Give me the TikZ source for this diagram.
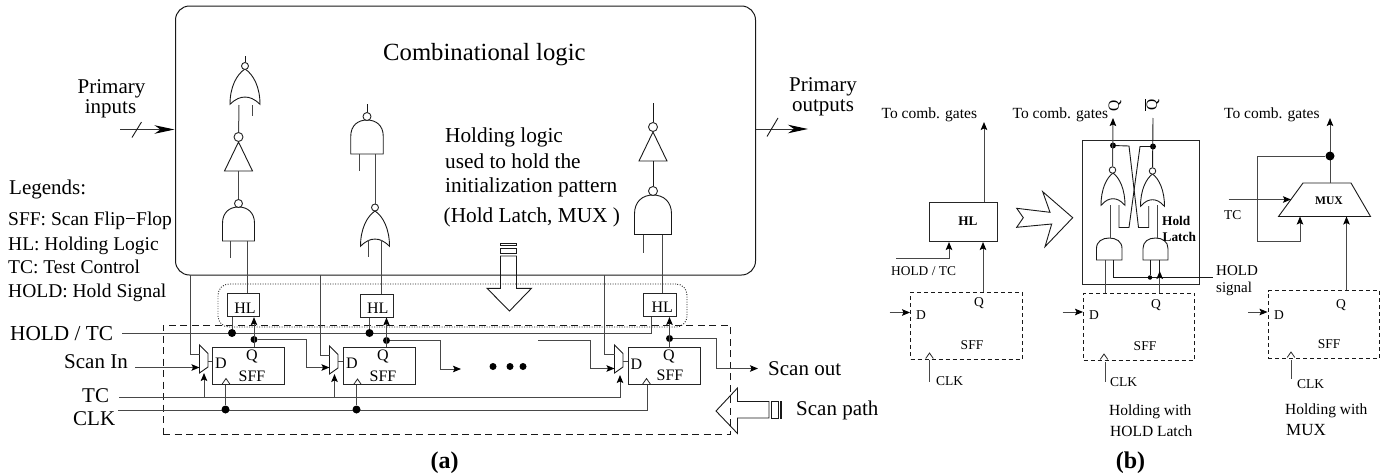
\documentclass[tikz,border=0pt]{standalone}
\usepackage{fontspec}
\setmainfont{Liberation Serif}
\usetikzlibrary{arrows.meta,calc}
\tikzset{
  wire/.style={line width=1pt,draw=black!72},
  thin wire/.style={line width=0.9pt,draw=black!90},
  arr/.style={wire,-{Stealth[length=8pt,width=6.5pt,inset=1.5pt,color=black]}},
  bigarr/.style={line width=1pt,draw=black!80,-{Stealth[length=20pt,width=8.5pt,inset=6pt,color=black]}},
  boxn/.style={draw=black!85,line width=1pt,rectangle,inner sep=0pt,minimum width=#1},
  dashbox/.style={draw=black!90,line width=0.9pt,dash pattern=on 4pt off 3pt,rectangle,inner sep=0pt},
  t/.style={inner sep=0pt,anchor=base west,font=\fontsize{#1}{#1}\selectfont},
  tc/.style={inner sep=0pt,anchor=base,font=\fontsize{#1}{#1}\selectfont},
  tm/.style={inner sep=0pt,anchor=center,font=\fontsize{#1}{#1}\selectfont},
  tb/.style={inner sep=0pt,anchor=base,font=\fontsize{#1}{#1}\selectfont\bfseries},
  tbl/.style={inner sep=0pt,anchor=base west,font=\fontsize{#1}{#1}\selectfont\bfseries},
  dotn/.style={circle,fill=black,inner sep=0pt,minimum size=#1},
  bub/.style={circle,draw=black!85,fill=white,line width=0.9pt,inner sep=0pt,minimum size=#1},
  andgate/.pic={\draw[thin wire] (-.5,1)--(.5,1)--(.5,.48) .. controls (.5,.16) and (.28,0) .. (0,0) .. controls (-.28,0) and (-.5,.16) .. (-.5,.48) -- cycle;},
  norgate/.pic={\draw[thin wire] (0,0) .. controls (.28,.15) and (.5,.5) .. (.5,.98) .. controls (.3,.82) and (.15,.78) .. (0,.78) .. controls (-.15,.78) and (-.3,.82) .. (-.5,.98) .. controls (-.5,.5) and (-.28,.15) .. (0,0) -- cycle;},
  invgate/.pic={\draw[thin wire] (0,0)--(.5,1)--(-.5,1)--cycle;},
  muxgate/.pic={\draw[thin wire,fill=white] (0,0)--(8.5,8.5)--(8.5,22)--(0,28)--cycle;},
  clkchev/.pic={\draw[line width=0.8pt,draw=black!85] (-3.8,5.5)--(0,0)--(3.8,5.5);},
}
\begin{document}
\begin{tikzpicture}[x=1pt,y=-1pt]
\useasboundingbox (0,0) rectangle (1385,474);
% ---- combinational block
\node[draw=black!90,line width=1pt,rounded corners=14pt,rectangle,inner sep=0pt,minimum width=580pt,minimum height=269pt] (comb) at (465.5,140.5) {};
\node[t=24.7] (combt) at (383,60) {Combinational logic};
\node[tc=21] (pi1) at (111.5,93) {Primary};
\node[tc=21] (pi2) at (110.5,113) {inputs};
\node[tc=21] (po1) at (823,91) {Primary};
\node[tc=21] (po2) at (823,111.7) {outputs};
\coordinate (pis) at (120,129.5);
\coordinate (pie) at (174.5,129.5);
\coordinate (pos) at (755.5,129);
\coordinate (poe) at (808,129);
\draw[bigarr] (pis) -- (pie);
\draw[bigarr] (pos) -- (poe);
\coordinate (s1a) at (132,137.5); \coordinate (s1b) at (141.5,122);
\coordinate (s2a) at (767,136.5); \coordinate (s2b) at (778,118);
\draw[thin wire] (s1a) -- (s1b);
\draw[thin wire] (s2a) -- (s2b);
% legends
\node[t=21] (lg0) at (9,194) {Legends:};
\node[t=19.5] (lg1) at (8,225.7) {SFF: Scan Flip−Flop};
\node[t=19.5] (lg2) at (8,250) {HL: Holding Logic};
\node[t=19.5] (lg3) at (8,273) {TC: Test Control};
\node[t=19.5] (lg4) at (8,297) {HOLD: Hold Signal};
% holding text
\node[t=21.3] (hl1t) at (445,142.7) {Holding logic};
\node[t=21.3] (hl2t) at (445,168) {used to hold the};
\node[t=21.3] (hl3t) at (445,192.7) {initialization pattern};
\node[t=21.3] (hl4t) at (443.5,222.7) {(Hold Latch, MUX )};
% gates column 1
\pic[xscale=30,yscale=36] at (245,69) {norgate};
\node[bub=7pt] (g1b) at (245,66) {};
\coordinate (g1t) at (245,56);
\draw[thin wire] (g1t) -- (g1b);
\coordinate (g1r) at (252,105); \coordinate (g1re) at (252,116);
\draw[wire] (g1r) -- (g1re);
\pic[xscale=28,yscale=29] at (238.5,142) {invgate};
\node[bub=9pt] (g2b) at (238.5,137) {};
\coordinate (g1l) at (239,105);
\draw[wire] (g1l) -- (g2b);
\pic[xscale=32,yscale=34] at (238.5,207) {andgate};
\node[bub=8pt] (g3b) at (238.5,203.5) {};
\coordinate (g2o) at (238.5,171);
\draw[wire] (g2o) -- (g3b);
\coordinate (g3l) at (230.5,241); \coordinate (g3le) at (230.5,258);
\draw[wire] (g3l) -- (g3le);
% gates column 2
\pic[xscale=32.5,yscale=34] at (367,120) {andgate};
\node[bub=8pt] (g4b) at (367,116.5) {};
\coordinate (g4t) at (367,104);
\draw[thin wire] (g4t) -- (g4b);
\coordinate (g4l) at (359,154); \coordinate (g4le) at (359,171);
\draw[wire] (g4l) -- (g4le);
\pic[xscale=29,yscale=36] at (375,211) {norgate};
\node[bub=7pt] (g5b) at (375,207.5) {};
\coordinate (g4r) at (375,154);
\draw[wire] (g4r) -- (g5b);
\coordinate (g5l) at (368,240); \coordinate (g5le) at (368,257);
\draw[wire] (g5l) -- (g5le);
% gates column 3
\pic[xscale=28,yscale=29] at (653,132) {invgate};
\node[bub=9pt] (g6b) at (653,127) {};
\coordinate (g6t) at (653,103);
\draw[thin wire] (g6t) -- (g6b);
\pic[xscale=37,yscale=39.5] at (653,195) {andgate};
\node[bub=9pt] (g7b) at (653,191) {};
\coordinate (g6o) at (653,161);
\draw[thin wire] (g6o) -- (g7b);
\coordinate (g7l) at (643.5,234.5); \coordinate (g7le) at (643.5,253);
\draw[wire] (g7l) -- (g7le);
% HL blocks
\node[boxn=32pt,minimum height=22.7pt] (hl1) at (243,305.3) {};
\node[boxn=33pt,minimum height=23pt] (hl2) at (376.5,305.5) {};
\node[boxn=32.5pt,minimum height=23pt] (hl3) at (659.75,305) {};
\node[tc=16] (hl1x) at (245,313) {HL};
\node[tc=16] (hl2x) at (377.7,313) {HL};
\node[tc=16] (hl3x) at (662.3,312.5) {HL};
\coordinate (g3r) at (247,241);
\coordinate (g5r) at (381.5,240);
\coordinate (g7r) at (662,234.5);
\draw[wire] (g3r) -- (g3r |- hl1.north);
\draw[wire] (g5r) -- (g5r |- hl2.north);
\draw[wire] (g7r) -- (g7r |- hl3.north);
% dashed and dotted enclosures
\node[draw=black!90,line width=0.9pt,dash pattern=on 7pt off 4.5pt,rectangle,inner sep=0pt,minimum width=567pt,minimum height=109pt] (scan) at (446.5,379.5) {};
\node[draw=black!90,line width=0.9pt,dash pattern=on 0.9pt off 1.6pt,rectangle,rounded corners=11pt,inner sep=0pt,minimum width=469pt,minimum height=43pt] (hold) at (452.5,305.5) {};
% SFFs
\node[boxn=72pt,minimum height=37pt] (sff1) at (248.5,366) {};
\node[boxn=72pt,minimum height=37.3pt] (sff2) at (379.3,366.3) {};
\node[boxn=72pt,minimum height=37.5pt] (sff3) at (664.5,365.75) {};
\node[tc=16] (d1) at (221,368) {D};
\node[tc=16] (q1) at (252,360) {Q};
\node[tc=16] (s1) at (252,381) {SFF};
\node[tc=16] (d2) at (352,368.3) {D};
\node[tc=16] (q2) at (383,360.7) {Q};
\node[tc=16] (s2) at (383,381.7) {SFF};
\node[tc=16] (d3) at (636.5,369) {D};
\node[tc=16] (q3) at (669,360) {Q};
\node[tc=16] (s3) at (670,380.7) {SFF};
% muxes
\pic at (199.5,345) {muxgate};
\pic at (329.5,346) {muxgate};
\pic at (614.5,345) {muxgate};
\coordinate (m1i) at (199.5,367.5); \coordinate (m1o) at (208,361);
\coordinate (m2i) at (329.5,367.5); \coordinate (m2o) at (338,361.5);
\coordinate (m3i) at (614.5,368.5); \coordinate (m3o) at (623,361);
\draw[wire] (m1o) -- (m1o -| sff1.west);
\draw[wire] (m2o) -- (m2o -| sff2.west);
\draw[wire] (m3o) -- (m3o -| sff3.west);
\coordinate (m1u) at (199.5,354.5);
\coordinate (m2u) at (329.5,355.5);
\coordinate (m3u) at (614.5,354.5);
\draw[wire] (190,275) |- (m1u);
\draw[wire] (320,275) |- (m2u);
\draw[wire] (604.5,275) |- (m3u);
% HOLD/TC
\node[t=21.3] (holdt) at (10,340.7) {HOLD / TC};
\node[t=21] (scanin) at (64,368.7) {Scan In};
\node[t=21] (tct) at (82,402) {TC};
\node[t=21] (clkt) at (73,425) {CLK};
\coordinate (hs) at (122,333);
\coordinate (he) at (651,333);
\draw[wire] (hs) -- (he) -- (he |- hl3.south);
\node[dotn=8pt] (j1h) at (232,333) {};
\node[dotn=8pt] (j2h) at (369.5,333) {};
\draw[wire] (j1h) -- (j1h |- hl1.south);
\draw[wire] (j2h) -- (j2h |- hl2.south);
% Q
\node[dotn=7pt] (j1q) at (254,339.5) {};
\node[dotn=7pt] (j2q) at (386.5,340.5) {};
\node[dotn=7pt] (j3q) at (669.5,338.5) {};
\draw[arr] (j1q |- sff1.north) -- (j1q |- hl1.south);
\draw[arr] (j2q |- sff2.north) -- (j2q |- hl2.south);
\draw[arr] (j3q |- sff3.north) -- (j3q |- hl3.south);
\coordinate (k1) at (306.5,339.5);
\draw[arr] (j1q) -- (k1) |- (m2i);
\coordinate (e2) at (461,369);
\coordinate (k2) at (440,340.5);
\draw[arr] (j2q) -- (k2) |- (e2);
\coordinate (s3s) at (538,340.5);
\coordinate (k3) at (590.5,340.5);
\draw[arr] (s3s) -- (k3) |- (m3i);
\coordinate (souts) at (716,338.5);
\coordinate (soute) at (758,368.5);
\draw[arr] (j3q) -- (souts) |- (soute);
\coordinate (sis) at (135,367.5);
\draw[arr] (sis) -- (m1i);
\node[t=21] (sout) at (768,375) {Scan out};
\node[t=21] (spath) at (796,415.7) {Scan path};
% ellipsis
\node[dotn=7pt] (e1d) at (493,366.5) {};
\node[dotn=7pt] (e2d) at (510,366.5) {};
\node[dotn=7pt] (e3d) at (523,366.5) {};
% TC and CLK
\coordinate (tcs) at (119,397.5);
\coordinate (tce) at (620,397.5);
\coordinate (clks) at (118,410.5);
\coordinate (clke) at (647,410.5);
\coordinate (m1s) at (204,373);
\coordinate (m2s) at (334.5,374);
\coordinate (m3s) at (620,375);
\draw[wire] (tcs) -- (tce);
\draw[arr] (tce) -- (m3s);
\draw[arr] (m1s |- tce) -- (m1s);
\draw[arr] (m2s |- tce) -- (m2s);
\draw[wire] (clks) -- (clke) -- (clke |- sff3.south);
\node[dotn=8pt] (j1c) at (225.5,409.5) {};
\node[dotn=8pt] (j2c) at (356.5,409.5) {};
\draw[wire] (j1c) -- (j1c |- sff1.south);
\draw[wire] (j2c) -- (j2c |- sff2.south);
\pic at (226,378.5) {clkchev};
\pic at (357.5,379) {clkchev};
\pic at (646.5,378.5) {clkchev};
% hollow down arrow
\draw[thin wire] (500.5,256) -- (500.5,288.3) -- (487,288.3) -- (509.5,311) -- (531.5,288.3) -- (516.5,288.3) -- (516.5,256) -- cycle;
\draw[thin wire] (500.5,248) rectangle (516.5,253);
\draw[thin wire] (500.5,243) rectangle (516.5,245);
% hollow left arrow
\draw[thin wire] (769,401.5) -- (737.5,401.5) -- (737.5,388) -- (716,411) -- (737.5,433.5) -- (737.5,418) -- (769,418) -- cycle;
\draw[thin wire] (771,401.5) rectangle (778,418);
\draw[thin wire] (780,401.5) rectangle (781.5,418);
\node[tb=24] (cap1) at (444.5,468) {(a)};
\node[tb=24] (cap2) at (1130.5,468) {(b)};
% ======= part b1
\node[t=15.5] (tcg1) at (881.5,118.3) {To comb. gates};
\node[boxn=68pt,minimum height=39.5pt] (hlb) at (963.5,221.75) {};
\node[tb=13.2] (hlbt) at (968,225) {HL};
\node[dashbox,minimum width=111.5pt,minimum height=67pt] (sb1) at (966.25,325.5) {};
\node[t=13.4] (hdt) at (891,275) {HOLD / TC};
\node[tc=13.5] (db1) at (921,319.3) {D};
\node[tc=13.5] (qb1) at (979,306.7) {Q};
\node[tc=13.5] (sfb1) at (972,349.3) {SFF};
\node[t=13.5] (cb1) at (936,385) {CLK};
\coordinate (hlo) at (984,122);
\draw[arr] (hlo |- hlb.north) -- (hlo);
\coordinate (qb1s) at (983,292);
\draw[arr] (qb1s) -- (qb1s |- hlb.south);
\coordinate (hts) at (896,258.5);
\coordinate (htk) at (949,258.5);
\draw[arr] (hts) -- (htk) -- (htk |- hlb.south);
\coordinate (db1s) at (889.5,312.5);
\draw[arr] (db1s) -- (db1s -| sb1.west);
\pic at (929.5,353) {clkchev};
\coordinate (cb1a) at (929.5,360); \coordinate (cb1b) at (929.5,382);
\draw[wire] (cb1a) -- (cb1b);
% big chevron arrow
\draw[thin wire] (1016.7,208.3) -- (1050,212.3) -- (1042.7,191.7) -- (1072.7,217.7) -- (1045,246.7) -- (1051.7,224) -- (1016.7,227.3) -- (1023.3,217.7) -- cycle;
% ======= latch
\node[t=15.5] (tcg2) at (1012.5,118.3) {To comb. gates};
\node[boxn=117pt,minimum height=144pt] (lat) at (1141,212) {};
\node[dashbox,minimum width=111pt,minimum height=67pt] (sb2) at (1139,326.5) {};
\node[tm=15.5,rotate=90] (qt) at (1115,106) {Q};
\node[tm=15.5,rotate=90] (qbt) at (1152,105) {$\overline{\hbox{Q}}$};
\pic[xscale=24,yscale=33] at (1113,173) {norgate};
\pic[xscale=24,yscale=33] at (1152.5,174) {norgate};
\node[bub=6.5pt] (lb1) at (1112.5,170) {};
\node[bub=6.5pt] (lb2) at (1152.5,171) {};
\node[dotn=6pt] (lj1) at (1113,145.5) {};
\node[dotn=6pt] (lj2) at (1153,146.5) {};
\coordinate (lq1) at (1113,118);
\coordinate (lq2) at (1153,118);
\draw[arr] (lb1) -- (lq1);
\draw[thin wire] (lb2) -- (lq2);
\coordinate (a1) at (1119,205); \coordinate (a2) at (1119,227.5); \coordinate (a3) at (1129,227.5); \coordinate (a4) at (1140,146.5);
\draw[thin wire] (a1) -- (a2) -- (a3) -- (a4) -- (lj2);
\coordinate (b1) at (1129,146); \coordinate (b2) at (1138.5,227.5); \coordinate (b3) at (1148.7,227.5); \coordinate (b4) at (1148.7,206);
\draw[thin wire] (lj1) -- (b1) -- (b2) -- (b3) -- (b4);
\pic[xscale=25.5,yscale=22] at (1109.25,238) {andgate};
\pic[xscale=25,yscale=22] at (1155.5,238) {andgate};
\coordinate (c1) at (1110,205); \coordinate (c2) at (1110,238);
\coordinate (c3) at (1157,205); \coordinate (c4) at (1157,238);
\draw[wire] (c1) -- (c2);
\draw[wire] (c3) -- (c4);
\node[tbl=13.3] (hlat1) at (1162,225) {Hold};
\node[tbl=13.3] (hlat2) at (1162.5,241.7) {Latch};
\coordinate (l1a) at (1105,260);
\draw[wire] (l1a) -- (l1a |- sb2.north);
\coordinate (l1b) at (1113.5,260);
\coordinate (l1c) at (1113.5,277.5);
\coordinate (holde) at (1213,277.5);
\draw[thin wire] (l1b) -- (l1c) -- (holde);
\node[dotn=4.5pt] (lj3) at (1150,277.5) {};
\coordinate (l2a) at (1150,260);
\draw[thin wire] (lj3) -- (l2a);
\coordinate (l2b) at (1159.7,260);
\coordinate (l2c) at (1159.7,271);
\draw[thin wire] (l2b) -- (l2b |- sb2.north);
\draw[arr] (l2b |- sb2.north) -- (l2c);
\node[t=15] (hsig1) at (1216,275) {HOLD};
\node[t=15] (hsig2) at (1216,292) {signal};
\node[tc=13.5] (db2) at (1094,319) {D};
\node[tc=13.5] (qb2) at (1156,308) {Q};
\node[tc=13.5] (sfb2) at (1145,350.7) {SFF};
\node[t=13.5] (cb2) at (1110,386.7) {CLK};
\node[t=15.5] (hw1) at (1109,415) {Holding with};
\node[t=15.5] (hw2) at (1110,436) {HOLD Latch};
\coordinate (db2s) at (1062.5,312);
\draw[arr] (db2s) -- (db2s -| sb2.west);
\pic at (1104,354) {clkchev};
\coordinate (cb2a) at (1105,362); \coordinate (cb2b) at (1105,382);
\draw[wire] (cb2a) -- (cb2b);
% ======= mux
\node[t=15.5] (tcg3) at (1224,118.3) {To comb. gates};
\draw[thin wire] (1278.5,216.5) -- (1303,183) -- (1351,183) -- (1370.5,216.5) -- cycle;
\node[tb=11.6] (muxt) at (1329,204) {MUX};
\node[dashbox,minimum width=111.5pt,minimum height=67.5pt] (sb3) at (1323.75,324.25) {};
\coordinate (mxo) at (1330,183);
\coordinate (mxt) at (1330,118);
\draw[arr] (mxo) -- (mxt);
\node[dotn=9pt] (mxj) at (1330,156) {};
\coordinate (mxa) at (1257.5,156);
\coordinate (mxb) at (1257.5,241.5);
\coordinate (mxc) at (1300,241.5);
\coordinate (mxd) at (1300,216.5);
\draw[arr] (mxj) -- (mxa) -- (mxb) -- (mxc) -- (mxd);
\coordinate (tcb) at (1228.5,199.5);
\coordinate (tcbe) at (1291,199.5);
\draw[arr] (tcb) -- (tcbe);
\node[t=13.5] (tcbt) at (1224,219) {TC};
\coordinate (mxq) at (1346.5,216.5);
\draw[arr] (mxq |- sb3.north) -- (mxq);
\node[tc=13.5] (db3) at (1279,319.3) {D};
\node[tc=13.5] (qb3) at (1341,308) {Q};
\node[tc=13.5] (sfb3) at (1329,348.3) {SFF};
\node[t=13.5] (cb3) at (1297,388) {CLK};
\node[t=15.5] (hw3) at (1285,414) {Holding with};
\node[t=17] (hw4) at (1286,435) {MUX};
\coordinate (db3s) at (1248,312);
\draw[arr] (db3s) -- (db3s -| sb3.west);
\pic at (1291,352) {clkchev};
\coordinate (cb3a) at (1291,360); \coordinate (cb3b) at (1291,379);
\draw[wire] (cb3a) -- (cb3b);
\end{tikzpicture}
\end{document}
